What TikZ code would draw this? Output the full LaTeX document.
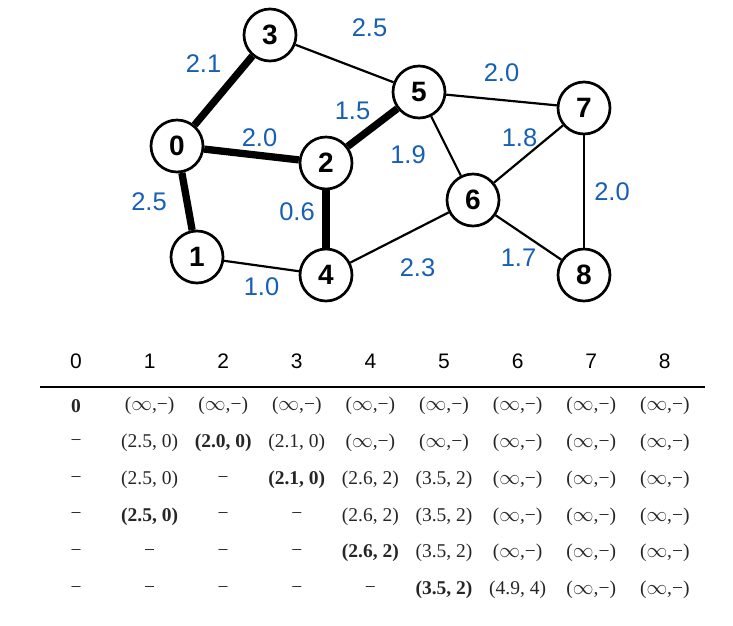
\documentclass[tikz,border=0pt]{standalone}
\usepackage{fontspec}
\setmainfont{Liberation Serif}
\newfontfamily\arial{Liberation Sans}
\usepackage{tikz}
\usetikzlibrary{arrows}
\definecolor{lblblue}{RGB}{21,96,180}
\newcommand{\dinf}{($\infty$,−)}
\newcommand{\dnone}{−}
\tikzset{
  vertex/.style={circle, draw=black, fill=white, line width=2.7pt, inner sep=0pt, minimum size=52pt, font=\arial\fontsize{28}{28}\selectfont\bfseries},
  lbl/.style={text=lblblue, font=\arial\fontsize{25.5}{25.5}\selectfont, inner sep=0pt},
  thin/.style={line width=2.2pt},
  tree/.style={line width=7.3pt},
  head/.style={font=\arial\fontsize{21}{21}\selectfont, inner sep=0pt},
  cell/.style={font=\fontsize{19.5}{19.5}\selectfont, text=black!85, inner sep=0pt}
}

\begin{document}
\begin{tikzpicture}[x=1pt, y=-1pt]
		\useasboundingbox (0,0) rectangle (733,625);
		% graph
		\node[vertex] (v0) at (177,146) {0};
		\node[vertex] (v3) at (270,35) {3};
		\node[vertex] (v2) at (326,163) {2};
		\node[vertex] (v5) at (419,92) {5};
		\node[vertex] (v7) at (584,108) {7};
		\node[vertex] (v6) at (473,200) {6};
		\node[vertex] (v1) at (197,257) {1};
		\node[vertex] (v4) at (326,275) {4};
		\node[vertex] (v8) at (584,275) {8};

		\path[tree]
			(v0) edge node [lbl, shift={(-20,-27)}] {2.1} (v3)
			     edge node [lbl, shift={(8,-17)}] {2.0} (v2)
			     edge node [lbl, shift={(-38,0)}] {2.5} (v1)
			(v2) edge node [lbl, shift={(-20,-17)}] {1.5} (v5)
			     edge node [lbl, shift={(-29,-7)}] {0.6} (v4);
		\path[thin]
			(v3) edge node [lbl, shift={(25,-36)}] {2.5} (v5)
			(v5) edge node [lbl, shift={(0,-27)}] {2.0} (v7)
			     edge node [lbl, shift={(-38,9)}] {1.9} (v6)
			(v6) edge node [lbl, shift={(-9,-16)}] {1.8} (v7)
			     edge node [lbl, shift={(-10,20)}] {1.7} (v8)
			(v4) edge node [lbl, shift={(18,30)}] {2.3} (v6)
			(v1) edge node [lbl, shift={(0,21)}] {1.0} (v4)
			(v7) edge node [lbl, shift={(28,0)}] {2.0} (v8);

		% table
		\foreach \i in {0,...,8}
			\node[head] (h\i) at (76+73.6*\i, 361) {\i};
		\coordinate (rl) at (40,387);
		\coordinate (rr) at (705,387);
		\draw[line width=2pt] (rl) -- (rr);

		\foreach \t [count=\i from 0] in {\textbf{0},\dinf,\dinf,\dinf,\dinf,\dinf,\dinf,\dinf,\dinf}
			\node[cell] (r0c\i) at (76+73.6*\i, 406) {\t};
		\foreach \t [count=\i from 0] in {\dnone,{(2.5, 0)},{\textbf{(2.0, 0)}},{(2.1, 0)},\dinf,\dinf,\dinf,\dinf,\dinf}
			\node[cell] (r1c\i) at (76+73.6*\i, 442.8) {\t};
		\foreach \t [count=\i from 0] in {\dnone,{(2.5, 0)},\dnone,{\textbf{(2.1, 0)}},{(2.6, 2)},{(3.5, 2)},\dinf,\dinf,\dinf}
			\node[cell] (r2c\i) at (76+73.6*\i, 479.6) {\t};
		\foreach \t [count=\i from 0] in {\dnone,{\textbf{(2.5, 0)}},\dnone,\dnone,{(2.6, 2)},{(3.5, 2)},\dinf,\dinf,\dinf}
			\node[cell] (r3c\i) at (76+73.6*\i, 516.4) {\t};
		\foreach \t [count=\i from 0] in {\dnone,\dnone,\dnone,\dnone,{\textbf{(2.6, 2)}},{(3.5, 2)},\dinf,\dinf,\dinf}
			\node[cell] (r4c\i) at (76+73.6*\i, 553.2) {\t};
		\foreach \t [count=\i from 0] in {\dnone,\dnone,\dnone,\dnone,\dnone,{\textbf{(3.5, 2)}},{(4.9, 4)},\dinf,\dinf}
			\node[cell] (r5c\i) at (76+73.6*\i, 590) {\t};
\end{tikzpicture}
\end{document}
